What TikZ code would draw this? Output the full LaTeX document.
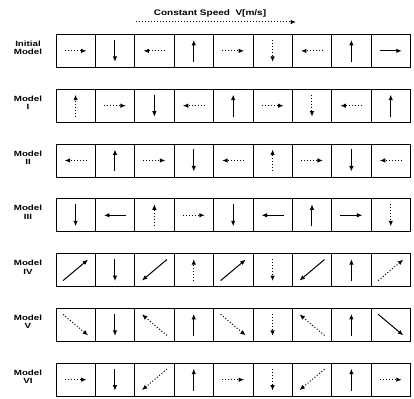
\documentclass[tikz,border=0pt]{standalone}
\usepackage{fontspec}
\setmainfont{Liberation Sans}
\usetikzlibrary{arrows.meta}
\begin{document}
\begin{tikzpicture}[x=1pt,y=-1pt,
  cellbox/.style={draw=black,line width=0.75pt,minimum width=39.4pt,minimum height=33pt,inner sep=0pt,anchor=north west},
  vec/.style={-{Latex[length=5.5pt,width=4.5pt]},line width=1pt},
  dot/.style={dotted},
  sol/.style={},
  lab/.style={font=\bfseries\fontsize{7.5}{8.5}\selectfont,inner sep=0pt},
  ttl/.style={font=\bfseries\fontsize{8}{9}\selectfont,inner sep=0pt}]
\useasboundingbox (0,0) rectangle (414,398);
\node[ttl] (title) at (210,13) {\scalebox{1.25}[1]{Constant Speed\ \ V[m/s]}};
\coordinate (sa) at (136,22);
\coordinate (sb) at (296,22);
\draw[vec,dotted] (sa) -- (sb);
\foreach \r/\lbl/\spec in {
  0/{Initial\\Model}/{1/0/dot,0/1/sol,-1/0/dot,0/-1/sol,1/0/dot,0/1/dot,-1/0/dot,0/-1/sol,1/0/sol},
  1/{Model\\I}/{0/-1/dot,1/0/dot,0/1/sol,-1/0/dot,0/-1/sol,1/0/dot,0/1/dot,-1/0/dot,0/-1/sol},
  2/{Model\\II}/{-1/0/dot,0/-1/sol,1/0/dot,0/1/sol,-1/0/dot,0/-1/dot,1/0/dot,0/1/sol,-1/0/dot},
  3/{Model\\III}/{0/1/sol,-1/0/sol,0/-1/dot,1/0/dot,0/1/sol,-1/0/sol,0/-1/sol,1/0/sol,0/1/dot},
  4/{Model\\IV}/{1/-1/sol,0/1/sol,-1/1/sol,0/-1/dot,1/-1/sol,0/1/dot,-1/1/sol,0/-1/sol,1/-1/dot},
  5/{Model\\V}/{1/1/dot,0/1/sol,-1/-1/dot,0/-1/sol,1/1/dot,0/1/dot,-1/-1/dot,0/-1/sol,1/1/sol},
  6/{Model\\VI}/{1/0/dot,0/1/sol,-1/1/dot,0/-1/sol,1/0/dot,0/1/dot,-1/1/dot,0/-1/sol,1/0/dot}} {
  \pgfmathsetmacro\top{34+\r*54.8}
  \node[lab] (lab\r) at (28,\top+15) {\scalebox{1.3}[1]{\begin{tabular}{@{}c@{}}\lbl\end{tabular}}};
  \foreach \dx/\dy/\sty [count=\c from 0] in \spec {
    \node[cellbox] (c\r-\c) at (55.5+\c*39.4,\top) {};
    \pgfmathsetmacro\hx{\dx*(\dy==0 ? 11 : 12.5)}
    \pgfmathsetmacro\hy{\dy*(\dx==0 ? 11 : 10.5)}
    \coordinate (p\r-\c) at ([shift={(-\hx,-\hy)}]c\r-\c.center);
    \coordinate (q\r-\c) at ([shift={(\hx,\hy)}]c\r-\c.center);
    \draw[vec,\sty] (p\r-\c) -- (q\r-\c);
  }
}
\end{tikzpicture}
\end{document}
